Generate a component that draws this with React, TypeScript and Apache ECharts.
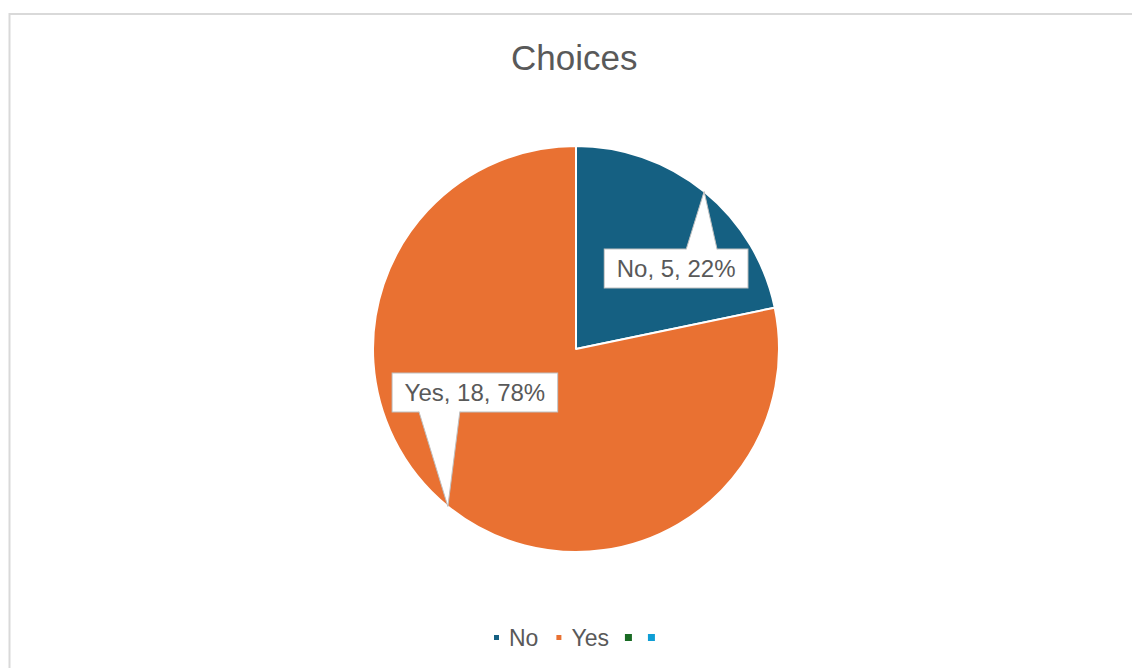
import React, { useEffect, useRef } from 'react';
import * as echarts from 'echarts';

// ---- data ----
const categories = ['No', 'Yes', ' ', '  '];
const counts = [5, 18, 0, 0];
const colors = ['#156082', '#E97132', '#196B24', '#0F9ED5'];
const titleText = 'Choices';

// ---- layout (pixels) ----
const CENTER = [576, 349];
const RADIUS = 203;
const BOX_H = 38;
// callout box centre, relative to the slice's outer mid-point
const labelOffsets = [[-28, 77], [27, -114]];
// callout pointer base x-extent, relative to the slice's outer mid-point
const pointerBases = [[-18, 13], [-29, 12]];

const FONT = '"Liberation Sans", Arial, sans-serif';
const TEXT_COLOR = '#595959';

function sliceTips(): number[][] {
  const total = counts.reduce((a, b) => a + b, 0);
  let cum = 0;
  return counts.map((v) => {
    const start = (cum / total) * 2 * Math.PI;
    cum += v;
    const end = (cum / total) * 2 * Math.PI;
    const mid = (start + end) / 2;
    return [CENTER[0] + RADIUS * Math.sin(mid), CENTER[1] - RADIUS * Math.cos(mid)];
  });
}

export default function App() {
  const ref = useRef<HTMLDivElement>(null);

  useEffect(() => {
    if (!ref.current) return;
    const chart = echarts.init(ref.current, undefined, { renderer: 'svg' });
    const tips = sliceTips();

    const graphics: any[] = [
      {
        type: 'rect',
        silent: true,
        z: -10,
        shape: { x: 9.5, y: 14, width: 1200, height: 800 },
        style: { fill: 'none', stroke: '#D9D9D9', lineWidth: 2 },
      },
    ];
    labelOffsets.forEach((o, i) => {
      if (!counts[i]) return;
      const t = tips[i];
      const dir = o[1] > 0 ? 1 : -1;
      const edgeY = t[1] + o[1] - (dir * BOX_H) / 2;
      const bl = [t[0] + pointerBases[i][0], edgeY];
      const br = [t[0] + pointerBases[i][1], edgeY];
      graphics.push({
        type: 'polygon',
        silent: true,
        z: 100,
        shape: { points: [[bl[0], edgeY + dir * 2], bl, t, br, [br[0], edgeY + dir * 2]] },
        style: { fill: '#ffffff', stroke: 'none' },
      });
      graphics.push({
        type: 'polyline',
        silent: true,
        z: 101,
        shape: { points: [bl, t, br] },
        style: { fill: 'none', stroke: '#BFBFBF', lineWidth: 1 },
      });
    });

    chart.setOption({
      animation: false,
      backgroundColor: '#ffffff',
      title: {
        text: titleText,
        left: 511,
        top: 40,
        padding: 0,
        textStyle: { fontSize: 35, fontWeight: 'normal', color: TEXT_COLOR, fontFamily: FONT, lineHeight: 35 },
      },
      legend: {
        data: categories,
        left: 492,
        top: 626,
        padding: 0,
        icon: 'rect',
        itemWidth: 7,
        itemHeight: 7,
        itemGap: 16,
        formatter: (n: string) => n.trim(),
        textStyle: { fontSize: 23, color: TEXT_COLOR, fontFamily: FONT, padding: [0, 0, 0, 4] },
      },
      graphic: graphics,
      series: [
        {
          type: 'pie',
          center: CENTER,
          radius: RADIUS,
          startAngle: 90,
          clockwise: true,
          avoidLabelOverlap: false,
          emphasis: { scale: false },
          itemStyle: { borderColor: '#ffffff', borderWidth: 2 },
          label: {
            show: true,
            position: 'inside',
            formatter: (p: any) => `${p.name}, ${p.value}, ${Math.round(p.percent)}%`,
            fontSize: 24,
            lineHeight: 24,
            fontFamily: FONT,
            color: TEXT_COLOR,
            backgroundColor: '#ffffff',
            borderColor: '#BFBFBF',
            borderWidth: 1,
            padding: [7, 12],
          },
          labelLine: { show: false },
          labelLayout: (params: any) => {
            const i = params.dataIndex;
            if (!counts[i] || !labelOffsets[i]) return {};
            const t = tips[i];
            return {
              x: t[0] + labelOffsets[i][0],
              y: t[1] + labelOffsets[i][1],
              align: 'center',
              verticalAlign: 'middle',
            };
          },
          data: categories.map((name, i) => ({
            name,
            value: counts[i],
            itemStyle: { color: colors[i], borderWidth: counts[i] ? 2 : 0 },
            label: { show: counts[i] > 0 },
          })),
        },
      ],
    });

    return () => chart.dispose();
  }, []);

  return (
    <div
      ref={ref}
      style={{ position: 'fixed', left: 0, top: 0, width: 1132, height: 668 }}
    />
  );
}
